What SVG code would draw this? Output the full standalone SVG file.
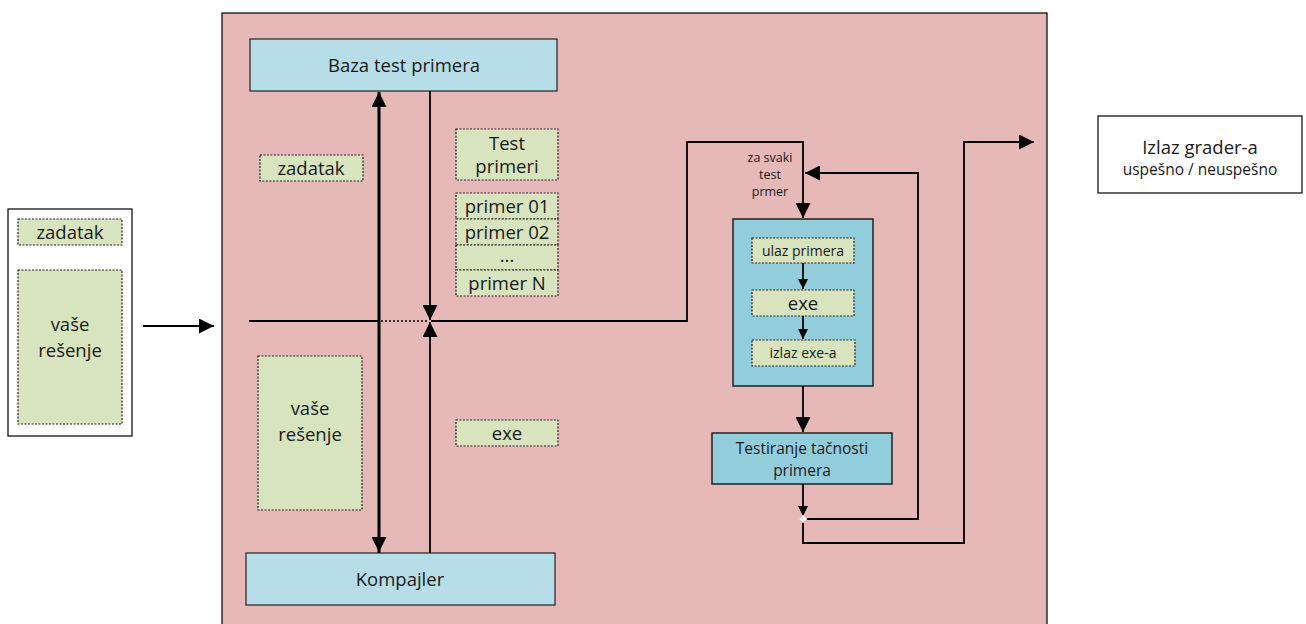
<svg xmlns="http://www.w3.org/2000/svg" width="1306" height="624" viewBox="0 0 1306 624">
  <style>
    text { font-family: "Open Sans", "Liberation Sans", sans-serif; fill: #1a1a1a; text-anchor: middle; }
    .t17 { font-size: 18.5px; }
    .t14 { font-size: 14px; }
    .t15 { font-size: 15.5px; }
    .t11 { font-size: 12.5px; }
    .panel { fill: #E6B8B7; stroke: #000; stroke-width: 1.2; }
    .white { fill: #fff; stroke: #000; stroke-width: 1.2; }
    .lblue { fill: #B7DEE8; stroke: #222; stroke-width: 1.2; }
    .dblue { fill: #92CDDC; stroke: #222; stroke-width: 1.5; }
    .green { fill: #D7E4BD; stroke: #222; stroke-width: 1.2; stroke-dasharray: 2 1.5; }
    .line { fill: none; stroke: #000; stroke-width: 1.8; }
    .thick { fill: none; stroke: #000; stroke-width: 2.6; }
    .dot { fill: none; stroke: #000; stroke-width: 1.5; stroke-dasharray: 2 2; }
  </style>
  <defs>
    <marker id="arr" viewBox="0 0 10 10" refX="10" refY="5" markerWidth="10" markerHeight="10" markerUnits="userSpaceOnUse" orient="auto">
      <path d="M0,0 L10,5 L0,10 z" fill="#000"/>
    </marker>
    <marker id="arrL" viewBox="0 0 10 10" refX="10" refY="5" markerWidth="15" markerHeight="15" markerUnits="userSpaceOnUse" orient="auto">
      <path d="M0,0 L10,5 L0,10 z" fill="#000"/>
    </marker>
  </defs>

  <rect x="0" y="0" width="1306" height="624" fill="#fff"/>

  <!-- grader panel -->
  <rect id="grader" class="panel" x="222" y="13" width="825" height="620"/>

  <!-- input submitted by the user -->
  <g id="input">
    <rect class="white" x="8" y="209" width="124" height="227"/>
    <rect class="green" x="18" y="219" width="104" height="26"/>
    <text class="t17" x="70" y="239">zadatak</text>
    <rect class="green" x="18" y="270" width="104" height="154"/>
    <text class="t17" x="70" y="331">vaše</text>
    <text class="t17" x="70" y="357">rešenje</text>
  </g>

  <g id="baza">
    <rect class="lblue" x="250" y="39" width="307" height="52"/>
    <text class="t17" x="404" y="72">Baza test primera</text>
  </g>

  <g id="kompajler">
    <rect class="lblue" x="246" y="553" width="309" height="52"/>
    <text class="t17" x="400" y="586">Kompajler</text>
  </g>

  <g id="zadatak">
    <rect class="green" x="260" y="155" width="103" height="26"/>
    <text class="t17" x="311" y="175">zadatak</text>
  </g>

  <g id="test-primeri">
    <rect class="green" x="456" y="129" width="102" height="51"/>
    <text class="t17" x="507" y="150">Test</text>
    <text class="t17" x="507" y="173">primeri</text>
  </g>

  <g id="primeri-lista">
    <rect class="green" x="456" y="193" width="102" height="26"/>
    <text class="t17" x="507" y="213">primer 01</text>
    <rect class="green" x="456" y="219" width="102" height="26"/>
    <text class="t17" x="507" y="239">primer 02</text>
    <rect class="green" x="456" y="245" width="102" height="25"/>
    <text class="t17" x="507" y="262">...</text>
    <rect class="green" x="456" y="270" width="102" height="26"/>
    <text class="t17" x="507" y="290">primer N</text>
  </g>

  <g id="resenje">
    <rect class="green" x="258" y="356" width="104" height="154"/>
    <text class="t17" x="310" y="415">vaše</text>
    <text class="t17" x="310" y="441">rešenje</text>
  </g>

  <g id="exe">
    <rect class="green" x="456" y="420" width="102" height="26"/>
    <text class="t17" x="507" y="440">exe</text>
  </g>

  <g id="izvrsavanje">
    <rect class="dblue" x="733" y="219" width="140" height="167"/>
    <rect class="green" x="752" y="238" width="102" height="25"/>
    <text class="t14" x="803" y="256">ulaz primera</text>
    <rect class="green" x="752" y="290" width="102" height="26"/>
    <text class="t17" x="803" y="310">exe</text>
    <rect class="green" x="752" y="340" width="103" height="26"/>
    <text class="t14" x="803" y="358">izlaz exe-a</text>
  </g>

  <g id="testiranje">
    <rect class="dblue" x="712" y="433" width="180" height="51"/>
    <text class="t15" x="802" y="454">Testiranje tačnosti</text>
    <text class="t15" x="802" y="476">primera</text>
  </g>

  <g id="izlaz">
    <rect class="white" x="1098" y="116" width="204" height="77"/>
    <text class="t17" x="1200" y="154">Izlaz grader-a</text>
    <text class="t15" x="1200" y="175">uspešno / neuspešno</text>
  </g>

  <g id="petlja-oznaka">
    <text class="t11" x="770" y="162">za svaki</text>
    <text class="t11" x="770" y="179">test</text>
    <text class="t11" x="770" y="196">prmer</text>
  </g>

  <g id="connectors">
    <!-- input into the grader -->
    <line class="line" x1="143" y1="326" x2="214" y2="326" marker-end="url(#arrL)"/>
    <!-- main bus -->
    <line class="line" x1="249" y1="321" x2="378" y2="321"/>
    <line class="dot" x1="381" y1="321" x2="429" y2="321"/>
    <polyline class="line" points="431,321 687,321 687,142 803,142 803,218" marker-end="url(#arrL)"/>
    <!-- database / compiler links -->
    <line class="thick" x1="379" y1="553" x2="379" y2="92" marker-end="url(#arrL)"/>
    <line class="thick" x1="379" y1="92" x2="379" y2="552" marker-end="url(#arrL)"/>
    <line class="line" x1="430" y1="91" x2="430" y2="320" marker-end="url(#arrL)"/>
    <line class="line" x1="430" y1="553" x2="430" y2="322" marker-end="url(#arrL)"/>
    <!-- inside execution block -->
    <line class="line" x1="803" y1="263" x2="803" y2="289" marker-end="url(#arr)"/>
    <line class="line" x1="803" y1="316" x2="803" y2="339" marker-end="url(#arr)"/>
    <line class="line" x1="803" y1="386" x2="803" y2="432" marker-end="url(#arrL)"/>
    <line class="line" x1="803" y1="484" x2="803" y2="516" marker-end="url(#arr)"/>
    <!-- loop back for next test case -->
    <polyline class="line" points="803,519 918,519 918,173 805,173" marker-end="url(#arrL)"/>
    <!-- final result -->
    <polyline class="line" points="803,519 803,543 964,543 964,142 1034,142" marker-end="url(#arrL)"/>
    <path d="M803,515 L807,519 L803,523 L799,519 z" fill="#fff" stroke="#ccc" stroke-width="0.8"/>
  </g>
</svg>
